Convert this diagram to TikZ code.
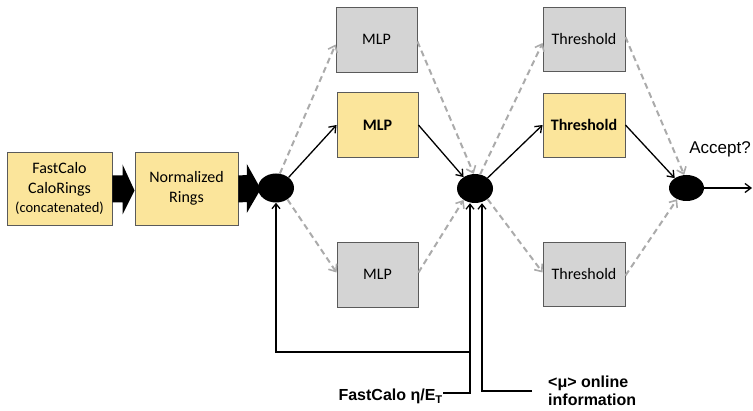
\documentclass[tikz,border=0pt]{standalone}
\usepackage{fontspec}
\setmainfont{Carlito}
\newfontfamily\arialfont{Liberation Sans}
\usetikzlibrary{arrows.meta,shapes.geometric}

\definecolor{boxyellow}{HTML}{FBE59B}
\definecolor{boxgray}{HTML}{D4D4D4}
\definecolor{boxline}{HTML}{5A5A5A}
\definecolor{altline}{HTML}{ABABAB}

\tikzset{
  block/.style={draw=boxline, line width=0.9pt, inner sep=0pt, align=center,
    font=\fontsize{16}{19.5}\selectfont},
  inbox/.style={block, fill=boxyellow, minimum width=105pt, minimum height=73pt},
  pickbox/.style={block, fill=boxyellow, minimum width=81pt, minimum height=65pt,
    font=\fontsize{16}{19.5}\selectfont\bfseries},
  altbox/.style={block, fill=boxgray, minimum width=81pt, minimum height=65pt},
  junction/.style={ellipse, fill=black, inner sep=0pt, minimum width=36pt, minimum height=29pt},
  mainflow/.style={draw=black, line width=1.3pt, -{Straight Barb[length=6pt,width=9pt,line width=1.3pt]}},
  altflow/.style={draw=altline, line width=2pt, dash pattern=on 6pt off 4pt,
    -{Straight Barb[length=6pt,width=10pt,line width=1.6pt]}},
  feed/.style={draw=black, line width=1.4pt, line join=miter,
    -{Straight Barb[length=5pt,width=8pt,line width=1.3pt]}},
  sidelabel/.style={inner sep=0pt, font=\arialfont\fontsize{16}{18.5}\selectfont\bfseries, align=left},
}

\begin{document}
\begin{tikzpicture}[x=1pt, y=-1pt]
  \useasboundingbox (0,0) rectangle (753,411);

  % input boxes
  \node[inbox] (rings) at (59.5,188.5) {FastCalo\\CaloRings\\{\fontsize{14.5}{17}\selectfont (concatenated)}};
  \node[inbox, minimum width=103pt] (norm) at (186.5,188.5) {Normalized\\Rings};

  % junctions
  \node[junction] (e1) at (276,188) {};
  \node[junction] (e2) at (475,188.5) {};
  \node[junction, minimum width=35pt, minimum height=26pt] (e3) at (686.5,188) {};

  % classifiers
  \node[altbox] (mlpt) at (376.5,39.5) {MLP};
  \node[pickbox] (mlpm) at (377.5,125) {MLP};
  \node[altbox] (mlpb) at (377.5,274.5) {MLP};

  % thresholds
  \node[altbox, minimum width=82pt, minimum height=64pt] (thrt) at (584,39) {Threshold};
  \node[pickbox, minimum width=82pt, minimum height=64pt] (thrm) at (584,125) {Threshold};
  \node[altbox, minimum width=82pt, minimum height=64pt] (thrb) at (584,274.5) {Threshold};

  % output
  \node[inner sep=0pt, font=\arialfont\fontsize{17}{20}\selectfont] (acc) at (720,149) {Accept?};
  \coordinate (out) at (752,188);

  % block arrows between the input stages
  \fill ([yshift=13pt]rings.east) -- ([xshift=-12pt,yshift=13pt]norm.west)
    -- ([xshift=-12pt,yshift=24pt]norm.west) -- ([yshift=-2pt]norm.west)
    -- ([xshift=-12pt,yshift=-26pt]norm.west) -- ([xshift=-12pt,yshift=-14pt]norm.west)
    -- ([yshift=-14pt]rings.east) -- cycle;
  \fill ([yshift=13pt]norm.east) -- ([xshift=-11pt,yshift=13pt]e1.west)
    -- ([xshift=-11pt,yshift=24pt]e1.west) -- ([xshift=3pt,yshift=-1pt]e1.west)
    -- ([xshift=-11pt,yshift=-25pt]e1.west) -- ([xshift=-11pt,yshift=-14pt]e1.west)
    -- ([yshift=-14pt]norm.east) -- cycle;

  % selected path
  \draw[mainflow] (e1.40) -- (mlpm.west);
  \draw[mainflow] (mlpm.east) -- (e2.135);
  \draw[mainflow] (e2.40) -- (thrm.west);
  \draw[mainflow] (thrm.east) -- (e3.140);
  \draw[mainflow] (e3.east) -- (out);

  % alternative paths
  \draw[altflow] (e1.75) -- ([yshift=-5pt]mlpt.west);
  \draw[altflow] (e1.-45) -- ([yshift=2pt]mlpb.west);
  \draw[altflow] ([yshift=-2pt]mlpt.east) -- (e2.95);
  \draw[altflow] ([yshift=2pt]mlpb.east) -- (e2.-135);
  \draw[altflow] (e2.70) -- ([yshift=-4pt]thrt.west);
  \draw[altflow] (e2.-40) -- ([yshift=2pt]thrb.west);
  \draw[altflow] ([yshift=2pt]thrt.east) -- (e3.100);
  \draw[altflow] ([yshift=-1pt]thrb.east) -- (e3.-130);

  % external inputs
  \node[sidelabel, anchor=base east] (eta) at (443,401) {FastCalo η/E\textsubscript{T}};
  \node[sidelabel, anchor=west] (mu) at (548,391) {<μ> online\\information};
  \coordinate (j1) at (470,393);
  \coordinate (j2) at (470,352);
  \coordinate (c1) at (276,352);
  \coordinate (j3) at (482,391);

  \draw[feed] (j1 -| eta.east) -- (j1) -- (e2.south -| j1);
  \draw[feed] (j2) -- (c1) -- (e1.south);
  \draw[feed] ([xshift=-16pt]mu.west |- j3) -- (j3) -- (e2.south -| j3);
\end{tikzpicture}
\end{document}
